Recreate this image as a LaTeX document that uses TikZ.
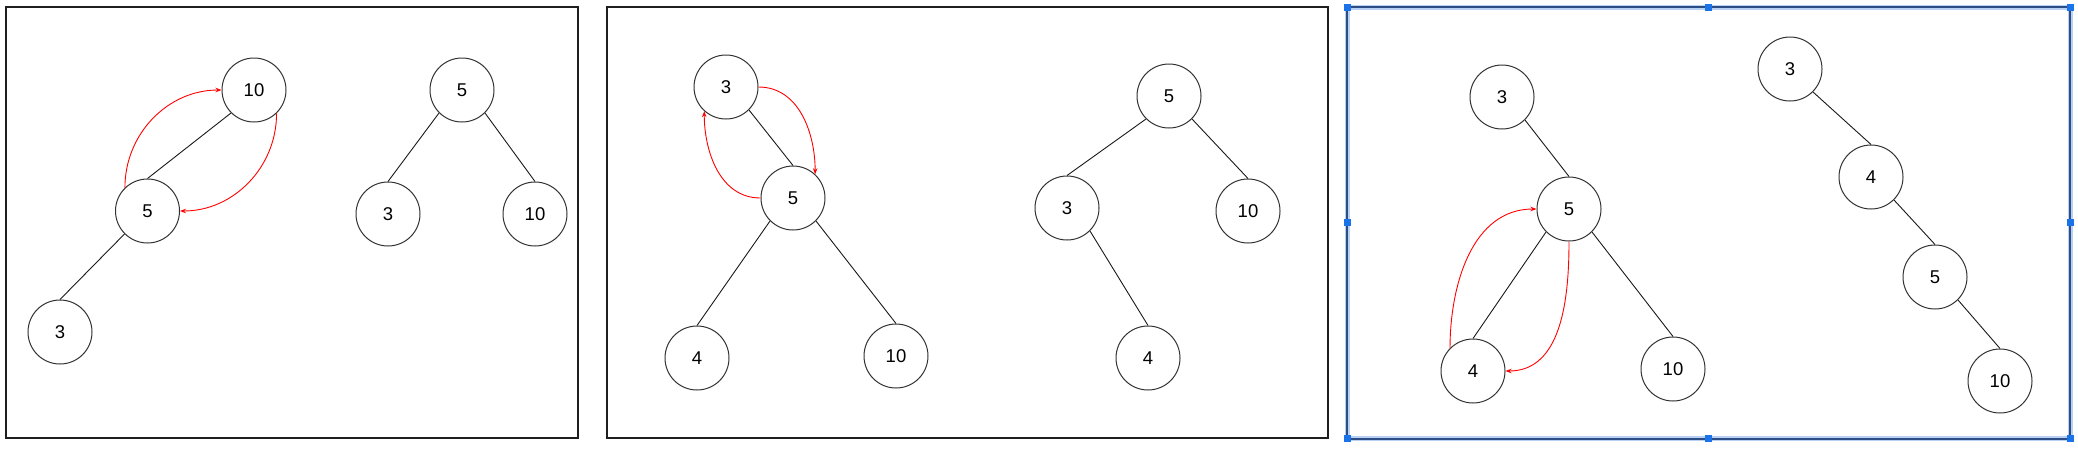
\documentclass[tikz,border=0pt]{standalone}
\usepackage{fontspec}
\setmainfont{Liberation Sans}
\usetikzlibrary{arrows.meta}

\definecolor{selline}{RGB}{44,78,132}
\definecolor{selhalo}{RGB}{184,208,243}
\definecolor{selhandle}{RGB}{26,115,232}

\begin{document}
\begin{tikzpicture}[x=1pt,y=1pt,
    key/.style={draw=black!80,line width=1pt,circle,minimum size=64pt,inner sep=0pt,
                font=\fontsize{18.5}{20}\selectfont},
    link/.style={black!90,line width=0.9pt},
    swap/.style={red,line width=0.9pt,-{Stealth[length=6pt,width=4.5pt]}},
    frame/.style={draw=black!88,line width=2pt}]
  \useasboundingbox (0,0) rectangle (2078,-448);

  % frames
  \draw[frame] (6,-7) rectangle (578,-438);
  \draw[frame] (607,-7) rectangle (1328,-438);
  \draw[selhalo,line width=5pt] (1347,-7) rectangle (2070,-438.5);
  \draw[selline,line width=2pt] (1347,-7) rectangle (2070,-438.5);
  \foreach \x/\y in {1347/7,1708.5/7,2070/7,1347/222.7,2070/222.7,1347/438.5,1708.5/438.5,2070/438.5}
    {\fill[selhandle] (\x-3.5,-\y-3.5) rectangle (\x+3.5,-\y+3.5);};

  % first frame
  \node[key] (a10) at (254,-90)    {10};
  \node[key] (a5)  at (147.5,-211) {5};
  \node[key] (a3)  at (60,-332)    {3};
  \node[key] (b5)  at (462,-90)    {5};
  \node[key] (b3)  at (388,-214)   {3};
  \node[key] (b10) at (535,-214)   {10};

  % second frame
  \node[key] (c3)  at (726,-87)    {3};
  \node[key] (c5)  at (793,-198)   {5};
  \node[key] (c4)  at (697,-358)   {4};
  \node[key] (c10) at (896,-356)   {10};
  \node[key] (d5)  at (1169,-96)   {5};
  \node[key] (d3)  at (1067,-208)  {3};
  \node[key] (d10) at (1248,-211)  {10};
  \node[key] (d4)  at (1148,-358)  {4};

  % third frame
  \node[key] (e3)  at (1502,-97)   {3};
  \node[key] (e5)  at (1569,-209)  {5};
  \node[key] (e4)  at (1473,-371)  {4};
  \node[key] (e10) at (1673,-369)  {10};
  \node[key] (f3)  at (1790,-69)   {3};
  \node[key] (f4)  at (1871,-177)  {4};
  \node[key] (f5)  at (1935,-277)  {5};
  \node[key] (f10) at (2000,-381)  {10};

  \path[link]
  (a10.south west) edge (a5.north)
  (a5.south west)  edge (a3.north)
  (b5.south west)  edge (b3.north)
  (b5.south east)  edge (b10.north)
  (c3.south east)  edge (c5.north)
  (c5.south west)  edge (c4.north)
  (c5.south east)  edge (c10.north)
  (d5.south west)  edge (d3.north)
  (d5.south east)  edge (d10.north)
  (d3.south east)  edge (d4.north)
  (e3.south east)  edge (e5.north)
  (e5.south west)  edge (e4.north)
  (e5.south east)  edge (e10.north)
  (f3.south east)  edge (f4.north)
  (f4.south east)  edge (f5.north)
  (f5.south east)  edge (f10.north);

  \path
  (a5.134)  edge[swap,out=90,in=180]  (a10.west)
  (a10.-46) edge[swap,out=-90,in=0]   (a5.east)
  (c3.east) edge[swap,out=0,in=90]    (c5.47)
  (c5.west) edge[swap,out=180,in=-90] (c3.228)
  (e4.135)  edge[swap,out=90,in=180]  (e5.west)
  (e5.south) edge[swap,out=-90,in=0]  (e4.east);
\end{tikzpicture}
\end{document}
